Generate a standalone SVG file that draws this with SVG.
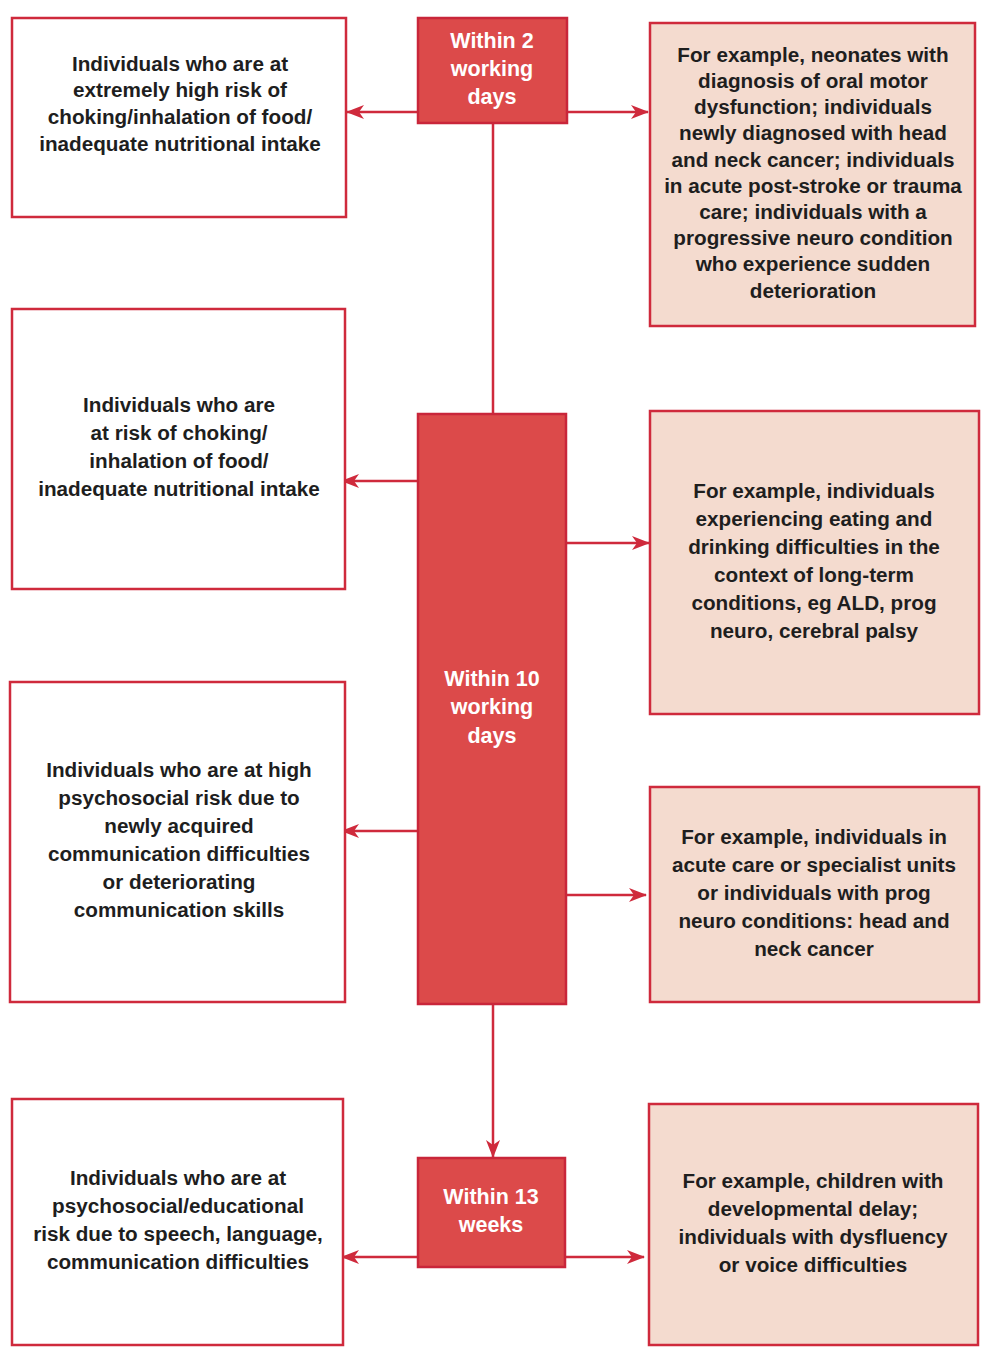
<svg xmlns="http://www.w3.org/2000/svg" width="985" height="1359" viewBox="0 0 985 1359">
<defs>
<style>
.lbox{fill:#ffffff;stroke:#cf2a3c;stroke-width:2.5}
.rbox{fill:#f4dbcf;stroke:#cf2a3c;stroke-width:2.5}
.tbox{fill:#dc4a4a;stroke:#c9263a;stroke-width:2.5}
.t{font-family:"Liberation Sans",Arial,sans-serif;font-weight:bold;font-size:20.7px;fill:#1e1e1e;text-anchor:middle}
.w{font-family:"Liberation Sans",Arial,sans-serif;font-weight:bold;font-size:21.5px;fill:#ffffff;text-anchor:middle}
.c{stroke:#cf2a3c;stroke-width:2.5;fill:none}
</style>
<marker id="ah" viewBox="0 0 18 14" refX="17" refY="7" markerWidth="18" markerHeight="14" markerUnits="userSpaceOnUse" orient="auto">
<path d="M0,0 L18,7 L0,14 L5,7 Z" fill="#cf2a3c"/>
</marker>
</defs>
<rect width="985" height="1359" fill="#ffffff"/>

<g id="connectors">
<line class="c" x1="418" y1="112" x2="347" y2="112" marker-end="url(#ah)"/>
<line class="c" x1="567" y1="112" x2="648" y2="112" marker-end="url(#ah)"/>
<line class="c" x1="493" y1="123" x2="493" y2="414"/>
<line class="c" x1="418" y1="481" x2="342" y2="481" marker-end="url(#ah)"/>
<line class="c" x1="566" y1="543" x2="649" y2="543" marker-end="url(#ah)"/>
<line class="c" x1="418" y1="831" x2="342" y2="831" marker-end="url(#ah)"/>
<line class="c" x1="566" y1="895" x2="646" y2="895" marker-end="url(#ah)"/>
<line class="c" x1="493" y1="1004" x2="493" y2="1157" marker-end="url(#ah)"/>
<line class="c" x1="418" y1="1257" x2="342" y2="1257" marker-end="url(#ah)"/>
<line class="c" x1="565" y1="1257" x2="644" y2="1257" marker-end="url(#ah)"/>
</g>

<g id="t2">
<rect class="tbox" x="418" y="18" width="149" height="105"/>
<text class="w" x="492" y="48">Within 2</text>
<text class="w" x="492" y="76">working</text>
<text class="w" x="492" y="104">days</text>
</g>

<g id="t10">
<rect class="tbox" x="418" y="414" width="148" height="590"/>
<text class="w" x="492" y="686">Within 10</text>
<text class="w" x="492" y="714">working</text>
<text class="w" x="492" y="743">days</text>
</g>

<g id="t13">
<rect class="tbox" x="418" y="1158" width="147" height="109"/>
<text class="w" x="491" y="1204">Within 13</text>
<text class="w" x="491" y="1232">weeks</text>
</g>

<g id="l1">
<rect class="lbox" x="12" y="18" width="334" height="199"/>
<text class="t" x="180" y="71">Individuals who are at</text>
<text class="t" x="180" y="97">extremely high risk of</text>
<text class="t" x="180" y="124">choking/inhalation of food/</text>
<text class="t" x="180" y="151">inadequate nutritional intake</text>
</g>

<g id="r1">
<rect class="rbox" x="650" y="23" width="325" height="303"/>
<text class="t" x="813" y="62">For example, neonates with</text>
<text class="t" x="813" y="88">diagnosis of oral motor</text>
<text class="t" x="813" y="114">dysfunction; individuals</text>
<text class="t" x="813" y="140">newly diagnosed with head</text>
<text class="t" x="813" y="167">and neck cancer; individuals</text>
<text class="t" x="813" y="193">in acute post-stroke or trauma</text>
<text class="t" x="813" y="219">care; individuals with a</text>
<text class="t" x="813" y="245">progressive neuro condition</text>
<text class="t" x="813" y="271">who experience sudden</text>
<text class="t" x="813" y="298">deterioration</text>
</g>

<g id="l2">
<rect class="lbox" x="12" y="309" width="333" height="280"/>
<text class="t" x="179" y="412">Individuals who are</text>
<text class="t" x="179" y="440">at risk of choking/</text>
<text class="t" x="179" y="468">inhalation of food/</text>
<text class="t" x="179" y="496">inadequate nutritional intake</text>
</g>

<g id="r2">
<rect class="rbox" x="650" y="411" width="329" height="303"/>
<text class="t" x="814" y="498">For example, individuals</text>
<text class="t" x="814" y="526">experiencing eating and</text>
<text class="t" x="814" y="554">drinking difficulties in the</text>
<text class="t" x="814" y="582">context of long-term</text>
<text class="t" x="814" y="610">conditions, eg ALD, prog</text>
<text class="t" x="814" y="638">neuro, cerebral palsy</text>
</g>

<g id="l3">
<rect class="lbox" x="10" y="682" width="335" height="320"/>
<text class="t" x="179" y="777">Individuals who are at high</text>
<text class="t" x="179" y="805">psychosocial risk due to</text>
<text class="t" x="179" y="833">newly acquired</text>
<text class="t" x="179" y="861">communication difficulties</text>
<text class="t" x="179" y="889">or deteriorating</text>
<text class="t" x="179" y="917">communication skills</text>
</g>

<g id="r3">
<rect class="rbox" x="650" y="787" width="329" height="215"/>
<text class="t" x="814" y="844">For example, individuals in</text>
<text class="t" x="814" y="872">acute care or specialist units</text>
<text class="t" x="814" y="900">or individuals with prog</text>
<text class="t" x="814" y="928">neuro conditions: head and</text>
<text class="t" x="814" y="956">neck cancer</text>
</g>

<g id="l4">
<rect class="lbox" x="12" y="1099" width="331" height="246"/>
<text class="t" x="178" y="1185">Individuals who are at</text>
<text class="t" x="178" y="1213">psychosocial/educational</text>
<text class="t" x="178" y="1241">risk due to speech, language,</text>
<text class="t" x="178" y="1269">communication difficulties</text>
</g>

<g id="r4">
<rect class="rbox" x="649" y="1104" width="329" height="241"/>
<text class="t" x="813" y="1188">For example, children with</text>
<text class="t" x="813" y="1216">developmental delay;</text>
<text class="t" x="813" y="1244">individuals with dysfluency</text>
<text class="t" x="813" y="1272">or voice difficulties</text>
</g>
</svg>
